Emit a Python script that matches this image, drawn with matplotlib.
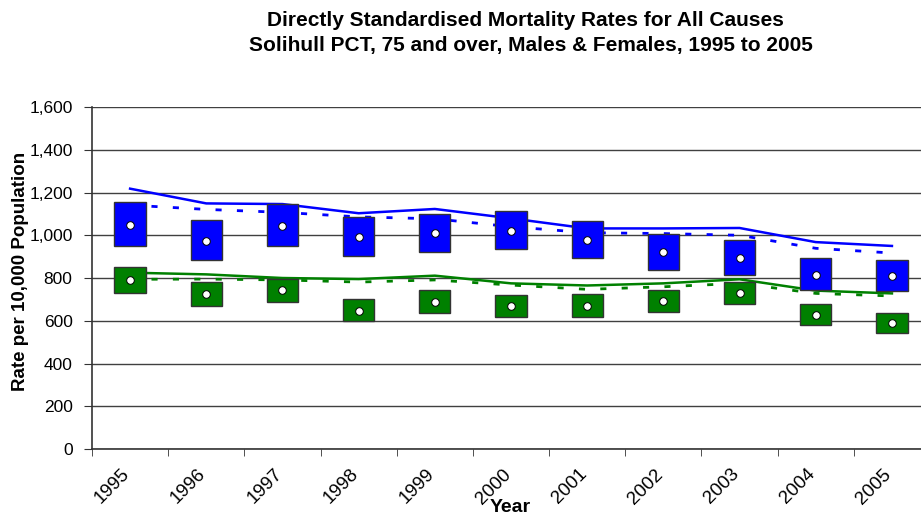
import numpy as np
import matplotlib.pyplot as plt
from matplotlib.transforms import ScaledTranslation

plt.rcParams['font.family'] = ['Liberation Sans', 'DejaVu Sans']

years = ['1995', '1996', '1997', '1998', '1999', '2000',
         '2001', '2002', '2003', '2004', '2005']

# Solihull PCT, males: rate and 95% CI
male_rate = [1048, 975, 1045, 992, 1009, 1021, 978, 920, 895, 815, 809]
male_low = [950, 884, 951, 903, 920, 934, 894, 839, 815, 744, 738]
male_high = [1154, 1070, 1145, 1084, 1101, 1112, 1068, 1004, 979, 894, 886]

# Solihull PCT, females: rate and 95% CI
female_rate = [789, 724, 742, 647, 688, 669, 671, 692, 732, 628, 590]
female_low = [731, 667, 686, 597, 635, 618, 619, 641, 680, 579, 544]
female_high = [850, 781, 795, 700, 742, 720, 724, 744, 783, 677, 635]

# comparator rates (solid and dashed lines)
male_solid = [1218, 1149, 1146, 1103, 1123, 1079, 1032, 1032, 1034, 968, 950]
male_dashed = [1141, 1121, 1107, 1086, 1077, 1040, 1012, 1008, 1000, 939, 917]
female_solid = [825, 817, 800, 795, 811, 775, 765, 775, 794, 741, 728]
female_dashed = [794, 795, 791, 781, 791, 767, 747, 759, 775, 728, 716]

blue = '#0000ff'
green = '#008000'

fig = plt.figure(figsize=(9.21, 5.18), dpi=100)
ax = fig.add_axes([0.0999, 0.1332, 0.9099, 0.6602])

x = np.arange(len(years))

# lines first, boxes drawn over them
ax.plot(x, male_solid, color=blue, lw=1.8, zorder=2)
ax.plot(x, male_dashed, color=blue, lw=2.0, linestyle=(0, (2.2, 5.5)), zorder=2)
ax.plot(x, female_solid, color=green, lw=1.8, zorder=2)
ax.plot(x, female_dashed, color=green, lw=2.0, linestyle=(0, (2.2, 5.5)), zorder=2)

for low, high, rate, col in [(male_low, male_high, male_rate, blue),
                             (female_low, female_high, female_rate, green)]:
    h = np.array(high) - np.array(low)
    ax.bar(x, h, bottom=low, width=0.41, color=col, edgecolor='#333333',
           linewidth=1.0, zorder=3)
    ax.scatter(x, rate, s=30, color='white', edgecolor='black',
               linewidth=0.7, zorder=4)

ax.set_ylim(0, 1600)
ax.set_yticks(np.arange(0, 1601, 200))
ax.set_yticklabels([f'{v:,}' for v in range(0, 1601, 200)], fontsize=12.5)
ax.yaxis.grid(True, color='#404040', linewidth=1.0)
ax.set_axisbelow(True)

ax.set_xlim(-0.5, 10.5)
ax.set_xticks(x)
ax.set_xticklabels(years, rotation=45, ha='right', va='top',
                   rotation_mode='anchor', fontsize=13.5)
ax.set_xticks(np.arange(-0.5, 10.6, 1), minor=True)
ax.tick_params(axis='x', which='major', length=0, pad=12)
ax.tick_params(axis='x', which='minor', length=5, direction='out', color='#333333')
ax.tick_params(axis='y', length=6, direction='out', color='#333333', pad=8)

# nudge the slanted year labels left so they end under the box centres
shift = ScaledTranslation(-9 / 100, 0, fig.dpi_scale_trans)
for lbl in ax.get_xticklabels():
    lbl.set_transform(lbl.get_transform() + shift)

for s in ['top', 'right']:
    ax.spines[s].set_visible(False)
ax.spines['left'].set_color('#333333')
ax.spines['bottom'].set_color('#333333')
ax.spines['left'].set_linewidth(1.2)
ax.spines['bottom'].set_linewidth(1.2)

ax.set_ylabel('Rate per 10,000 Population', fontsize=13.5, fontweight='bold')
ax.yaxis.set_label_coords(-0.075, 0.52)
fig.text(0.554, 0.003, 'Year', ha='center', va='bottom', fontsize=14, fontweight='bold')

fig.text(0.570, 0.960, 'Directly Standardised Mortality Rates for All Causes',
         ha='center', va='center', fontsize=15, fontweight='bold')
fig.text(0.577, 0.912, 'Solihull PCT, 75 and over, Males & Females, 1995 to 2005',
         ha='center', va='center', fontsize=15, fontweight='bold')

fig.savefig('out.png', dpi=100)
